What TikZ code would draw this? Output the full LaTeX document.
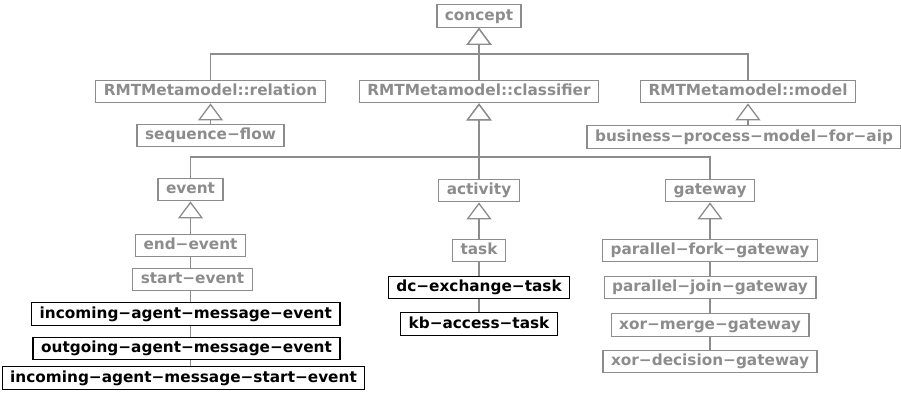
\documentclass[tikz,border=0pt]{standalone}
\usepackage{fontspec}
\setmainfont{DejaVu Sans}
\usetikzlibrary{arrows.meta}
\definecolor{umlgray}{RGB}{140,140,140}
\begin{document}
\begin{tikzpicture}[x=1pt,y=-1pt,
  cls/.style={draw=umlgray, text=umlgray, line width=1.3pt,
    font=\fontsize{15.3}{18}\selectfont\bfseries,
    inner xsep=8pt, inner ysep=0pt, minimum height=22.5pt,
    text height=11.5pt, text depth=3.5pt},
  own/.style={cls, draw=black, text=black},
  link/.style={draw=umlgray, line width=1.3pt},
  gen/.style={link, -{Triangle[length=17pt, width=25pt, fill=white, line width=1.3pt]}}]
\useasboundingbox (0,0) rectangle (901,394);

% top level
\node[cls] (concept) at (479,16) {concept};
\node[cls] (relation) at (210.5,91.5) {RMTMetamodel::relation};
\node[cls] (classifier) at (479,91.5) {RMTMetamodel::classifier};
\node[cls] (model) at (748,91.5) {RMTMetamodel::model};
\node[cls] (seqflow) at (210.5,135.5) {sequence−flow};
\node[cls] (bpm) at (744,137) {business−process−model−for−aip};

% second level
\node[cls] (event) at (190.5,189.5) {event};
\node[cls] (activity) at (479,190.5) {activity};
\node[cls] (gateway) at (710,190.5) {gateway};

% events
\node[cls] (endev) at (190.5,245.5) {end−event};
\node[cls] (startev) at (192.5,279.5) {start−event};
\node[own] (inmsg) at (185.8,314) {incoming−agent−message−event};
\node[own] (outmsg) at (186.5,348.5) {outgoing−agent−message−event};
\node[own] (instart) at (183.5,378) {incoming−agent−message−start−event};

% activities
\node[cls] (task) at (479,250.5) {task};
\node[own] (dcx) at (479,287.5) {dc−exchange−task};
\node[own] (kba) at (479,324) {kb−access−task};

% gateways
\node[cls] (pfork) at (710,250.5) {parallel−fork−gateway};
\node[cls] (pjoin) at (710,287.5) {parallel−join−gateway};
\node[cls] (xmerge) at (710,325) {xor−merge−gateway};
\node[cls] (xdec) at (710,361.5) {xor−decision−gateway};

% generalisation buses
\coordinate (busA) at (479,54);
\coordinate (busB) at (479,157);

\draw[gen] (relation.north) |- (busA) -- (concept.south);
\draw[gen] (model.north) |- (busA) -- (concept.south);
\draw[gen] (classifier.north) -- (concept.south);

\draw[gen] (seqflow.north) -- (relation.south);
\draw[gen] (model.south |- bpm.north) -- (model.south);

\draw[gen] (event.north) |- (busB) -- (classifier.south);
\draw[gen] (gateway.north) |- (busB) -- (classifier.south);
\draw[gen] (activity.north) -- (classifier.south);

% event column
\draw[gen] (event.south |- endev.north) -- (event.south);
\draw[link] (event.south |- endev.south) -- (event.south |- startev.north);
\draw[link] (event.south |- startev.south) -- (event.south |- inmsg.north);
\draw[link] (event.south |- inmsg.south) -- (event.south |- outmsg.north);
\draw[link] (event.south |- outmsg.south) -- (event.south |- instart.north);

% activity column
\draw[gen] (task.north) -- (activity.south);
\draw[link] (task.south) -- (dcx.north);
\draw[link] (dcx.south) -- (kba.north);

% gateway column
\draw[gen] (pfork.north) -- (gateway.south);
\draw[link] (pfork.south) -- (pjoin.north);
\draw[link] (pjoin.south) -- (xmerge.north);
\draw[link] (xmerge.south) -- (xdec.north);
\end{tikzpicture}
\end{document}
